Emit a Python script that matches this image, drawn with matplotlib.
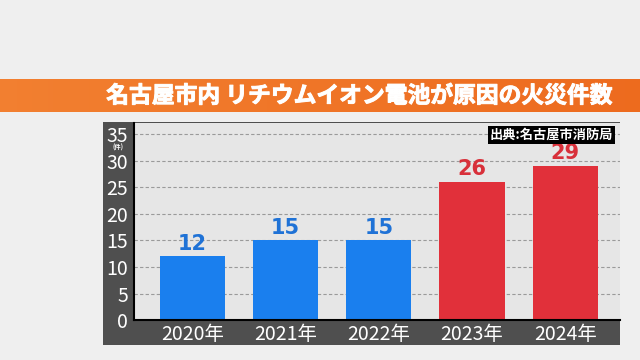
import numpy as np
import matplotlib.pyplot as plt
import matplotlib.patheffects as pe

# data
years = ['2020年', '2021年', '2022年', '2023年', '2024年']
fires = [12, 15, 15, 26, 29]
bar_colors = ['#1a7fee', '#1a7fee', '#1a7fee', '#e1303a', '#e1303a']
label_colors = ['#1f72d6', '#1f72d6', '#1f72d6', '#d8303a', '#d8303a']
yticks = [0, 5, 10, 15, 20, 25, 30, 35]

title = '名古屋市内 リチウムイオン電池が原因の火災件数'
source = '出典:名古屋市消防局'

jp = ['Noto Sans CJK JP', 'DejaVu Sans']

fig = plt.figure(figsize=(6.4, 3.6), dpi=100)
fig.patch.set_facecolor('#efefef')

# orange banner with a soft gradient
bax = fig.add_axes([0, 0.689, 1, 0.092])
grad = np.linspace(0, 1, 256).reshape(1, -1)
c1 = np.array([0.95, 0.50, 0.19])
c2 = np.array([0.93, 0.42, 0.12])
img = c1 + (c2 - c1) * grad[..., None]
bax.imshow(img, aspect='auto', extent=(0, 1, 0, 1))
bax.set_axis_off()
fig.text(0.561, 0.733, title, ha='center', va='center', color='white',
         fontsize=16.4, fontweight='bold', family=jp,
         path_effects=[pe.withStroke(linewidth=0.7, foreground='white')])

# dark panel behind the chart
pax = fig.add_axes([0.161, 0.0417, 0.808, 0.62])
pax.set_facecolor('#4f4f4f')
pax.set_xticks([])
pax.set_yticks([])
for s in pax.spines.values():
    s.set_visible(False)

ax = fig.add_axes([0.209, 0.111, 0.760, 0.547])
ax.set_facecolor('#e6e6e6')
x = np.arange(len(years))
ax.bar(x, fires, width=0.70, color=bar_colors, zorder=3)
for xi, v, c in zip(x, fires, label_colors):
    ax.text(xi, v + 0.5, str(v), ha='center', va='bottom', color=c,
            fontsize=15, fontweight='bold', family='DejaVu Sans', zorder=4)

ax.set_xlim(-0.63, 4.59)
ax.set_ylim(0, 37.1)
ax.set_yticks(yticks)
ax.set_yticklabels([str(t) for t in yticks], family=jp)
ax.set_xticks(x)
ax.set_xticklabels(years, family=jp)
ax.tick_params(axis='both', length=0, colors='white', labelsize=14)
ax.tick_params(axis='y', pad=4)
ax.tick_params(axis='x', pad=3)
ax.grid(axis='y', color='#9a9a9a', linestyle=(0, (3, 2)), linewidth=0.8, zorder=1)
for s in ['top', 'right']:
    ax.spines[s].set_visible(False)
for s in ['left', 'bottom']:
    ax.spines[s].set_color('black')
    ax.spines[s].set_linewidth(1.5)
    ax.spines[s].set_zorder(5)

# unit under the top tick
fig.text(0.185, 0.591, '(件)', ha='center', va='center', color='white',
         fontsize=4.5, fontweight='bold', family=jp)

# source label
fig.text(0.958, 0.625, source, ha='right', va='center', color='white',
         fontsize=9.5, fontweight='bold', family=jp,
         bbox=dict(facecolor='black', edgecolor='none', pad=1.5))

fig.savefig('out.png', dpi=100, facecolor=fig.get_facecolor())
